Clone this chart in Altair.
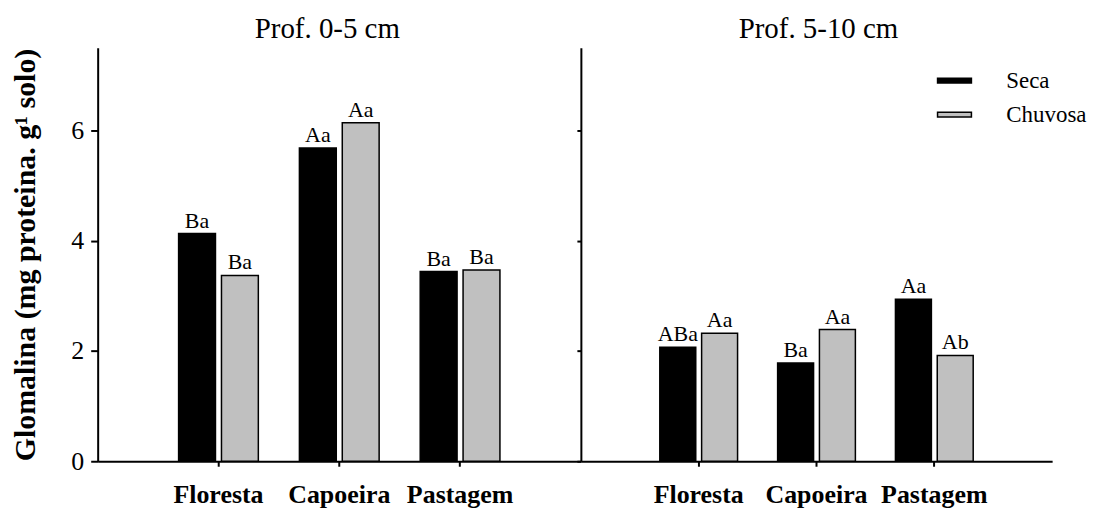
import altair as alt
import pandas as pd

# ---- data ----
locais = ["Floresta", "Capoeira", "Pastagem"]
epocas = ["Seca", "Chuvosa"]
titulos = ["Prof. 0-5 cm", "Prof. 5-10 cm"]

seca_0_5 = [4.13, 5.68, 3.44]
chuvosa_0_5 = [3.37, 6.14, 3.47]
seca_5_10 = [2.07, 1.78, 2.94]
chuvosa_5_10 = [2.32, 2.39, 1.92]

letras_seca_0_5 = ["Ba", "Aa", "Ba"]
letras_chuvosa_0_5 = ["Ba", "Aa", "Ba"]
letras_seca_5_10 = ["ABa", "Ba", "Aa"]
letras_chuvosa_5_10 = ["Aa", "Aa", "Ab"]

y_ticks = [0, 2, 4, 6]
cores = ["#000000", "#c0c0c0"]

FONT = "Liberation Serif"


def frame(seca, chuv, ls, lc):
    rows = []
    for i, loc in enumerate(locais):
        rows.append(dict(local=loc, epoca="Seca", valor=seca[i], letra=ls[i]))
        rows.append(dict(local=loc, epoca="Chuvosa", valor=chuv[i], letra=lc[i]))
    return pd.DataFrame(rows)


def panel(df, titulo, width, first, title_dx):
    x = alt.X(
        "local:N", sort=locais, title=None,
        scale=alt.Scale(paddingInner=0.34, paddingOuter=0.67),
        axis=alt.Axis(labelFont=FONT, labelFontSize=26, labelFontWeight="bold",
                      labelColor="black", labelAngle=0, labelPadding=15,
                      tickSize=5, tickWidth=2, tickColor="black",
                      domainColor="black", domainWidth=2, grid=False),
    )
    xo = alt.XOffset("epoca:N", sort=epocas,
                     scale=alt.Scale(paddingInner=0.14, paddingOuter=0))
    if first:
        yaxis = alt.Axis(values=y_ticks, grid=False, labelFont=FONT, labelFontSize=26,
                         labelColor="black", labelPadding=7, tickSize=7, tickWidth=2,
                         tickColor="black", domainColor="black", domainWidth=2,
                         title="Glomalina (mg proteina. g¹ solo)", titleFont=FONT,
                         titleFontSize=30, titleFontWeight="bold", titleColor="black",
                         titlePadding=30)
    else:
        yaxis = alt.Axis(values=y_ticks, grid=False, labels=False, tickSize=4, tickWidth=2,
                         tickColor="black", domainColor="black", domainWidth=2, title=None)
    y = alt.Y("valor:Q", scale=alt.Scale(domain=[0, 7.5], nice=False), axis=yaxis)

    if first:
        legend = None
    else:
        legend = alt.Legend(title=None, orient="none", legendX=357, legendY=15,
                            symbolType="M-1,-0.14H1V0.14H-1Z", symbolSize=1156,
                            symbolStrokeColor="black", symbolStrokeWidth=1.5,
                            labelFont=FONT, labelFontSize=23, labelColor="black",
                            labelOffset=34, rowPadding=4, padding=0)
    fill = alt.Fill("epoca:N", sort=epocas,
                    scale=alt.Scale(domain=epocas, range=cores), legend=legend)

    base = alt.Chart(df)
    bars = base.mark_bar(stroke="black", strokeWidth=1.5).encode(
        x=x, xOffset=xo, y=y, fill=fill)
    txt = base.mark_text(font=FONT, fontSize=22, baseline="alphabetic", dy=-6,
                         color="black").encode(x=x, xOffset=xo, y=y, text="letra:N")
    return alt.layer(bars, txt).properties(
        width=width, height=415,
        title=alt.TitleParams(titulo, font=FONT, fontSize=29, fontWeight="normal",
                              color="black", offset=4, dx=title_dx),
    )


left = panel(frame(seca_0_5, chuvosa_0_5, letras_seca_0_5, letras_chuvosa_0_5),
             titulos[0], 485, True, -12)
right = panel(frame(seca_5_10, chuvosa_5_10, letras_seca_5_10, letras_chuvosa_5_10),
              titulos[1], 473, False, 2)

chart = alt.hconcat(left, right, spacing=0, bounds="flush").resolve_scale(
    fill="independent", x="independent", xOffset="independent", y="shared"
).properties(
    padding={"left": 3, "top": 6, "right": 0, "bottom": 0}
).configure_view(stroke=None)

chart.save("out.html", embed_options={"renderer": "svg", "actions": False})
